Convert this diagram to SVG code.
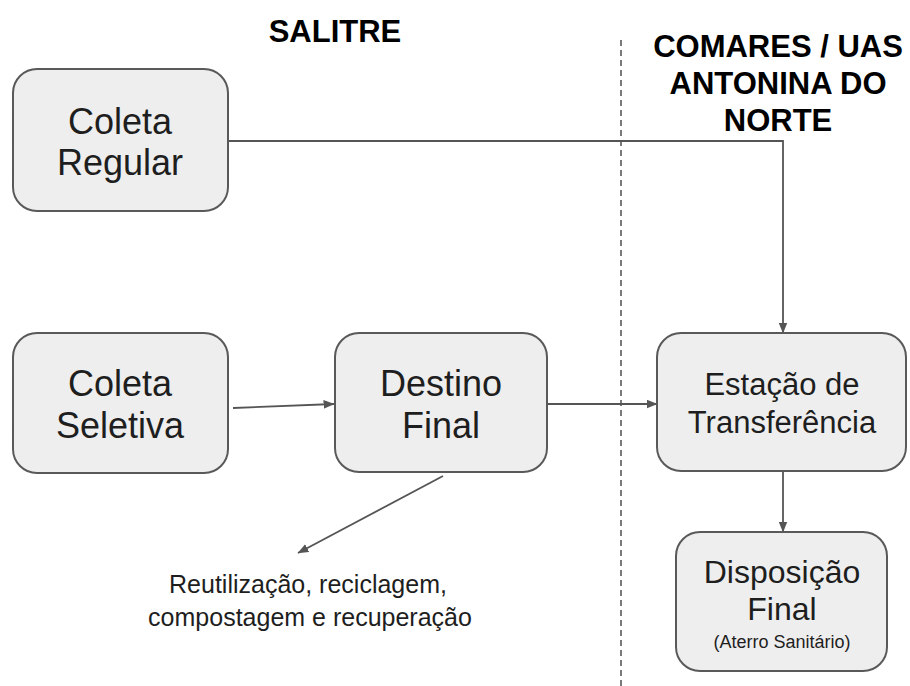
<svg xmlns="http://www.w3.org/2000/svg" width="910" height="686" viewBox="0 0 910 686">
<style>
.box{fill:#eeeeee;stroke:#595959;stroke-width:2}
.t{font-family:"Liberation Sans",Arial,sans-serif;fill:#1e1e1e;text-anchor:middle}
.h{font-family:"Liberation Sans",Arial,sans-serif;fill:#000;font-weight:bold;text-anchor:middle;font-size:31px}
.c{fill:none;stroke:#555;stroke-width:1.8}
</style>
<defs>
<marker id="arr" viewBox="0 0 10 8" refX="9.5" refY="4" markerWidth="11" markerHeight="9" orient="auto" markerUnits="userSpaceOnUse">
<path d="M0,0 L10,4 L0,8 z" fill="#555"/>
</marker>
</defs>
<rect width="910" height="686" fill="#fff"/>
<line x1="621" y1="40" x2="621" y2="686" stroke="#333" stroke-width="1.3" stroke-dasharray="6,4"/>
<text class="h" x="335" y="42">SALITRE</text>
<text class="h" x="778" y="57">COMARES / UAS</text>
<text class="h" x="778" y="94">ANTONINA DO</text>
<text class="h" x="778" y="131">NORTE</text>
<g id="connectors">
<path class="c" d="M218,141 H783 V333" marker-end="url(#arr)"/>
<path class="c" d="M233,408 L334,404" marker-end="url(#arr)"/>
<path class="c" d="M547,404 L657,404" marker-end="url(#arr)"/>
<path class="c" d="M443,476 L298,553" marker-end="url(#arr)"/>
<path class="c" d="M783,471 L783,532" marker-end="url(#arr)"/>
</g>
<g id="coleta-regular">
<rect class="box" x="13" y="69" width="215" height="142" rx="24"/>
<text class="t" x="120" y="134" font-size="36">Coleta</text>
<text class="t" x="120" y="175" font-size="36">Regular</text>
</g>
<g id="coleta-seletiva">
<rect class="box" x="13" y="333" width="215" height="140" rx="24"/>
<text class="t" x="120" y="396" font-size="36">Coleta</text>
<text class="t" x="120" y="438" font-size="36">Seletiva</text>
</g>
<g id="destino-final">
<rect class="box" x="335" y="333" width="212" height="139" rx="24"/>
<text class="t" x="441" y="396" font-size="36">Destino</text>
<text class="t" x="441" y="438" font-size="36">Final</text>
</g>
<g id="estacao">
<rect class="box" x="657" y="333" width="249" height="138" rx="24"/>
<text class="t" x="782" y="395" font-size="31">Estação de</text>
<text class="t" x="782" y="433" font-size="31">Transferência</text>
</g>
<g id="disposicao">
<rect class="box" x="676" y="532" width="211" height="139" rx="24"/>
<text class="t" x="782" y="583" font-size="32">Disposição</text>
<text class="t" x="782" y="620" font-size="32">Final</text>
<text class="t" x="782" y="648" font-size="18">(Aterro Sanitário)</text>
</g>
<g id="reutilizacao">
<text class="t" x="308" y="593" font-size="25">Reutilização, reciclagem,</text>
<text class="t" x="310" y="626" font-size="25">compostagem e recuperação</text>
</g>
</svg>
